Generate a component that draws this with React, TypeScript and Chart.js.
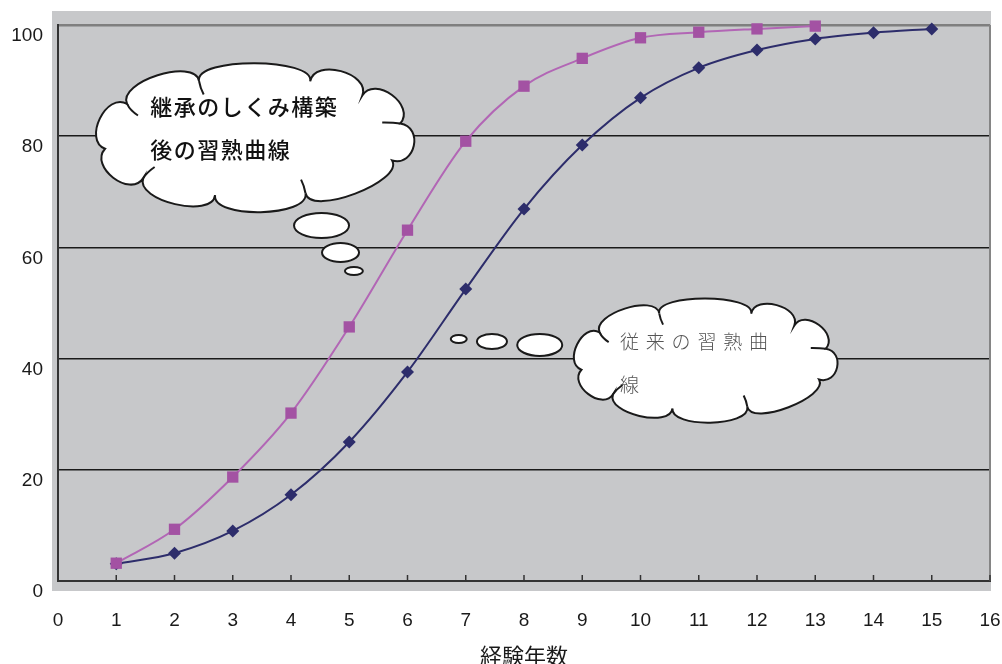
import { useEffect, useRef } from "react";
import { Chart, registerables } from "chart.js";

Chart.register(...registerables);

// ---- data ----
const yearsInherited = [1, 2, 3, 4, 5, 6, 7, 8, 9, 10, 11, 12, 13];
const inheritedCurve = [3.2, 9.3, 18.7, 30.2, 45.7, 63.1, 79.1, 89.0, 94.0, 97.7, 98.7, 99.3, 99.8];
const yearsConventional = [1, 2, 3, 4, 5, 6, 7, 8, 9, 10, 11, 12, 13, 14, 15];
const conventionalCurve = [3.1, 5.0, 9.0, 15.5, 25.0, 37.6, 52.5, 66.9, 78.4, 86.9, 92.3, 95.5, 97.5, 98.6, 99.3];
const xTickValues = [0, 1, 2, 3, 4, 5, 6, 7, 8, 9, 10, 11, 12, 13, 14, 15, 16];
const yTickValues = [0, 20, 40, 60, 80, 100];
const xTitle = "経験年数";
const cloudInheritedText = ["継承のしくみ構築", "後の習熟曲線"];
const cloudConventionalText = ["従来の習熟曲", "線"];

// Excel-like cloud shape: cusp angles around an ellipse (degrees)
const cloudAngles = [-146.6, -111, -67.8, -43.7, -13, 23, 69.7, 104.6, 136.7, 168.7];

function drawCloud(ctx: CanvasRenderingContext2D, cx: number, cy: number, rx: number, ry: number, h: number) {
  const pts = cloudAngles.map((a) => {
    const r = (a * Math.PI) / 180;
    return [cx + rx * Math.cos(r), cy + ry * Math.sin(r)];
  });
  const n = pts.length;
  const cps: number[][] = [];
  ctx.beginPath();
  ctx.moveTo(pts[0][0], pts[0][1]);
  for (let i = 0; i < n; i++) {
    const A = pts[i];
    const B = pts[(i + 1) % n];
    const dx = B[0] - A[0];
    const dy = B[1] - A[1];
    const len = Math.hypot(dx, dy);
    const nx = dy / len;
    const ny = -dx / len;
    const k = 0.04;
    const c1 = [A[0] - dx * k + nx * h, A[1] - dy * k + ny * h];
    const c2 = [B[0] + dx * k + nx * h, B[1] + dy * k + ny * h];
    cps.push(c1, c2);
    ctx.bezierCurveTo(c1[0], c1[1], c2[0], c2[1], B[0], B[1]);
  }
  ctx.closePath();
  ctx.fillStyle = "#ffffff";
  ctx.fill();
  ctx.lineWidth = 2;
  ctx.strokeStyle = "#1a1a1a";
  ctx.stroke();
  // short inner arcs continuing some bumps inside the cloud
  const inner = [0, 1, 4, 6, 8];
  inner.forEach((i) => {
    const P = pts[i];
    const c1 = cps[2 * i];
    const vx = P[0] - c1[0];
    const vy = P[1] - c1[1];
    ctx.beginPath();
    ctx.moveTo(P[0], P[1]);
    ctx.quadraticCurveTo(P[0] + vx * 0.3, P[1] + vy * 0.3, P[0] + vx * 0.45 + (cx - P[0]) * 0.05, P[1] + vy * 0.45 + (cy - P[1]) * 0.05);
    ctx.stroke();
  });
}

function drawEllipse(ctx: CanvasRenderingContext2D, x: number, y: number, rx: number, ry: number) {
  ctx.beginPath();
  ctx.ellipse(x, y, rx, ry, 0, 0, Math.PI * 2);
  ctx.fillStyle = "#ffffff";
  ctx.fill();
  ctx.lineWidth = 2;
  ctx.strokeStyle = "#1a1a1a";
  ctx.stroke();
}

function drawSpaced(ctx: CanvasRenderingContext2D, text: string, x: number, y: number, pitch: number) {
  Array.from(text).forEach((ch, i) => ctx.fillText(ch, x + i * pitch, y));
}

const decorPlugin = {
  id: "decor",
  beforeDraw(chart: any) {
    const { ctx, chartArea } = chart;
    const { left, right, top, bottom } = chartArea;
    ctx.save();
    ctx.fillStyle = "#C7C8CA";
    ctx.fillRect(left - 6, top - 14, right - left + 7, bottom - top + 24);
    ctx.restore();
  },
  beforeDatasetsDraw(chart: any) {
    const { ctx, chartArea, scales } = chart;
    const { right, top, bottom } = chartArea;
    ctx.save();
    ctx.strokeStyle = "#858585";
    ctx.lineWidth = 2;
    ctx.beginPath();
    ctx.moveTo(right, top);
    ctx.lineTo(right, bottom);
    ctx.stroke();
    ctx.strokeStyle = "#333333";
    ctx.lineWidth = 1.5;
    xTickValues.forEach((v) => {
      if (v === 0) return;
      const px = scales.x.getPixelForValue(v);
      ctx.beginPath();
      ctx.moveTo(px, bottom);
      ctx.lineTo(px, bottom - 6);
      ctx.stroke();
    });
    ctx.restore();
  },
  afterDatasetsDraw(chart: any) {
    const { ctx, scales } = chart;
    const X = (v: number) => scales.x.getPixelForValue(v);
    const Y = (v: number) => scales.y.getPixelForValue(v);
    ctx.save();
    // thought bubbles for inherited curve
    drawEllipse(ctx, X(4.524), Y(63.94), 27.5, 12.5);
    drawEllipse(ctx, X(4.85), Y(59.08), 18.5, 9.5);
    drawEllipse(ctx, X(5.08), Y(55.76), 9, 4);
    const c1x = X(3.35);
    const c1y = Y(79.86);
    drawCloud(ctx, c1x, c1y, 151, 60, 24);
    // thought bubbles for conventional curve
    drawEllipse(ctx, X(6.88), Y(43.53), 8, 4);
    drawEllipse(ctx, X(7.45), Y(43.08), 15, 7.5);
    drawEllipse(ctx, X(8.27), Y(42.45), 22.5, 11);
    const c2x = X(11.09);
    const c2y = Y(39.75);
    drawCloud(ctx, c2x, c2y, 125, 50, 20);

    ctx.textAlign = "left";
    ctx.textBaseline = "middle";
    ctx.fillStyle = "#111111";
    ctx.font = "500 22px 'Noto Sans CJK JP', sans-serif";
    drawSpaced(ctx, cloudInheritedText[0], c1x - 103, c1y - 30, 23.5);
    drawSpaced(ctx, cloudInheritedText[1], c1x - 103, c1y + 13, 23.5);
    ctx.fillStyle = "#555555";
    ctx.font = "300 19px 'Noto Sans CJK JP', sans-serif";
    drawSpaced(ctx, cloudConventionalText[0], c2x - 84, c2y - 18, 25.8);
    drawSpaced(ctx, cloudConventionalText[1], c2x - 84, c2y + 25, 25.8);
    ctx.restore();
  },
};

export default function App() {
  const ref = useRef<HTMLCanvasElement | null>(null);
  useEffect(() => {
    document.body.style.margin = "0";
    if (!ref.current) return;
    const tickFont = { family: "'Liberation Sans', Arial, sans-serif", size: 19 };
    const chart = new Chart(ref.current, {
      type: "line",
      data: {
        datasets: [
          {
            label: "継承のしくみ構築後の習熟曲線",
            data: yearsInherited.map((x, i) => ({ x, y: inheritedCurve[i] })),
            borderColor: "#B266B5",
            borderWidth: 2,
            backgroundColor: "#A352A3",
            pointBackgroundColor: "#A352A3",
            pointBorderColor: "#A352A3",
            pointStyle: "rect",
            pointRadius: 8,
            pointBorderWidth: 0,
            cubicInterpolationMode: "monotone",
            clip: false,
          },
          {
            label: "従来の習熟曲線",
            data: yearsConventional.map((x, i) => ({ x, y: conventionalCurve[i] })),
            borderColor: "#2D2D6B",
            borderWidth: 2,
            backgroundColor: "#2D2D6B",
            pointBackgroundColor: "#2D2D6B",
            pointBorderColor: "#2D2D6B",
            pointStyle: "rectRot",
            pointRadius: 6.5,
            pointBorderWidth: 0,
            cubicInterpolationMode: "monotone",
            clip: false,
          },
        ],
      },
      options: {
        responsive: false,
        animation: false,
        layout: { padding: { left: 0, top: 25, right: 12, bottom: 0 } },
        plugins: { legend: { display: false }, tooltip: { enabled: false } },
        scales: {
          x: {
            type: "linear",
            min: 0,
            max: 16,
            afterBuildTicks: (scale: any) => {
              scale.ticks = xTickValues.map((v) => ({ value: v }));
            },
            afterFit: (scale: any) => {
              scale.height = 83;
              scale.paddingLeft = 0;
              scale.paddingRight = 0;
            },
            grid: { display: false, drawTicks: false },
            border: { display: true, color: "#333333", width: 2 },
            ticks: { font: tickFont, color: "#1a1a1a", padding: 28, maxRotation: 0, autoSkip: false },
            title: {
              display: true,
              text: xTitle,
              color: "#1a1a1a",
              font: { family: "'Noto Sans CJK JP', sans-serif", size: 22, lineHeight: "16px" },
              padding: { top: 0, bottom: 0 },
            },
          },
          y: {
            type: "linear",
            min: 0,
            max: 100,
            afterBuildTicks: (scale: any) => {
              scale.ticks = yTickValues.map((v) => ({ value: v }));
            },
            afterFit: (scale: any) => {
              scale.width = 58;
              scale.paddingTop = 0;
              scale.paddingBottom = 0;
            },
            grid: {
              drawTicks: false,
              color: (c: any) => (c.tick && c.tick.value === 100 ? "#7f7f7f" : "#1a1a1a"),
              lineWidth: (c: any) => (c.tick && c.tick.value === 100 ? 2.5 : 1.5),
            },
            border: { display: true, color: "#333333", width: 2 },
            ticks: { font: tickFont, color: "#1a1a1a", padding: 15, labelOffset: 11 },
          },
        },
      },
      plugins: [decorPlugin],
    } as any);
    return () => chart.destroy();
  }, []);
  return (
    <div style={{ position: "absolute", left: 0, top: 0, width: 1002, height: 664, background: "#ffffff" }}>
      <canvas ref={ref} width={1002} height={664} />
    </div>
  );
}
